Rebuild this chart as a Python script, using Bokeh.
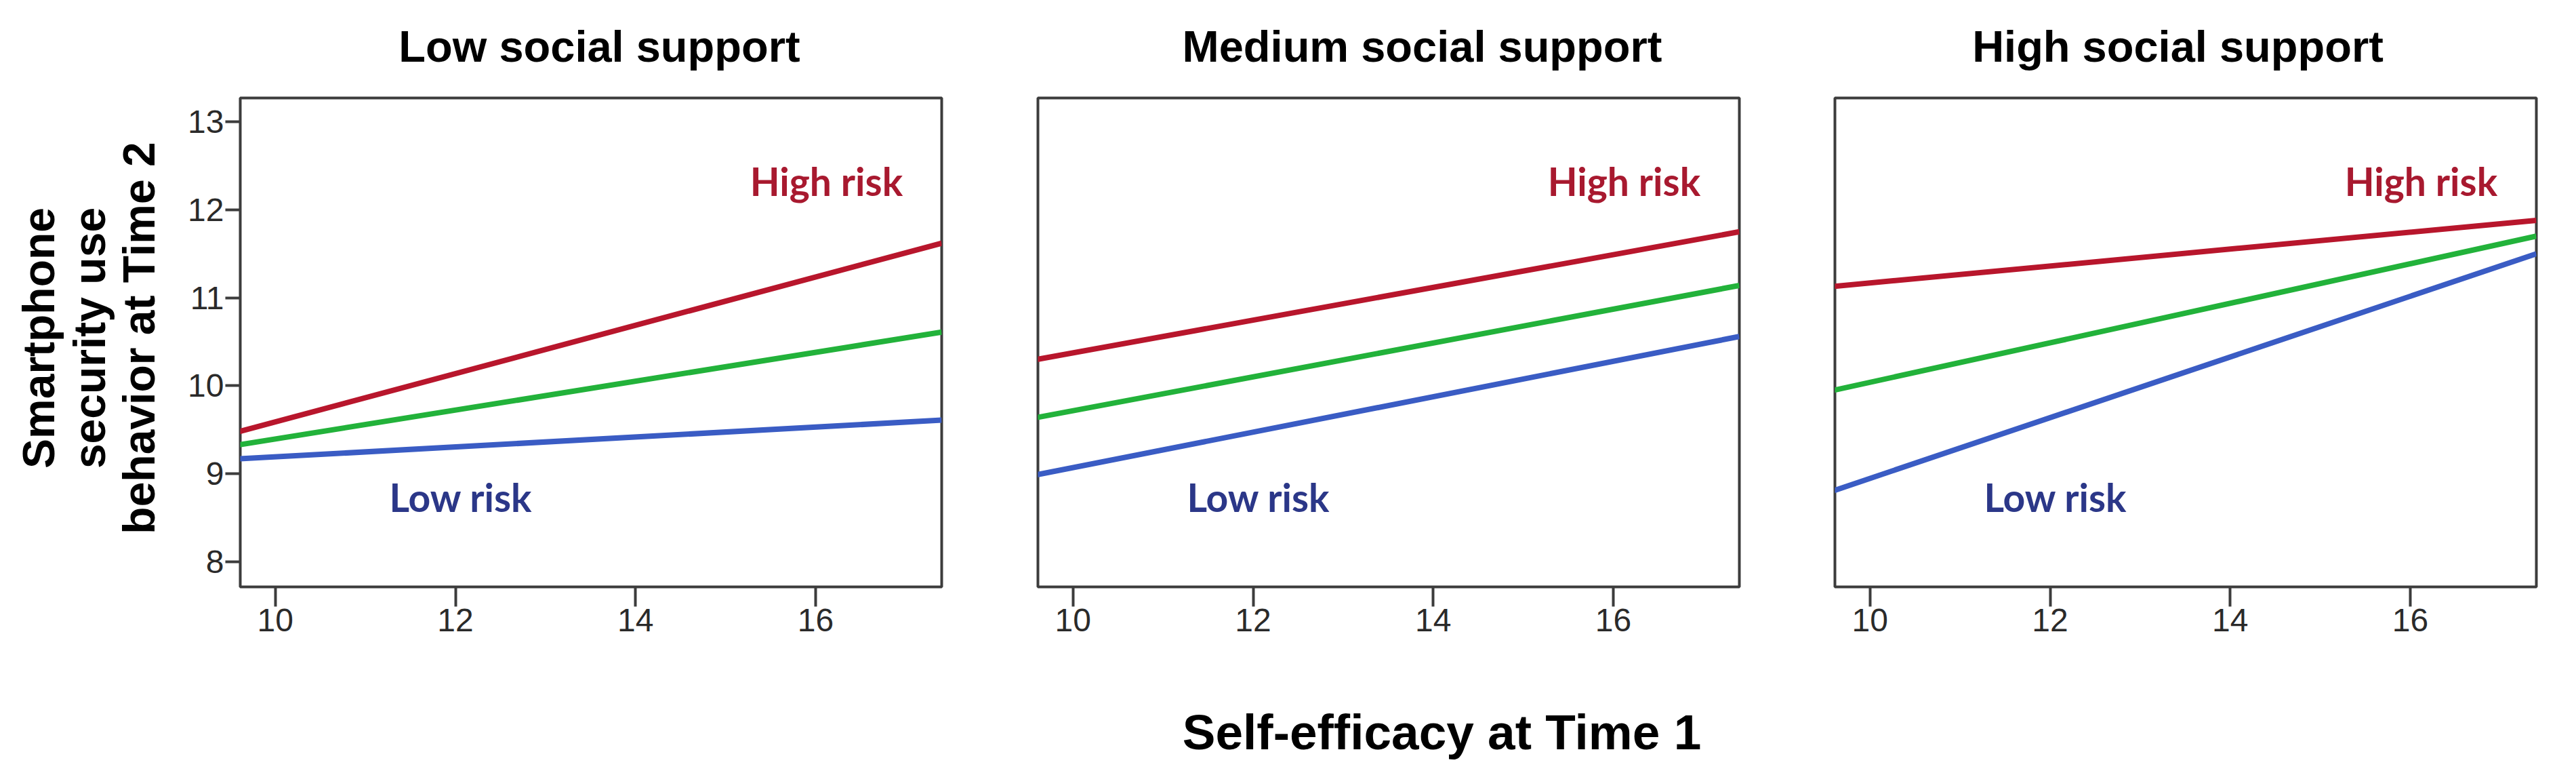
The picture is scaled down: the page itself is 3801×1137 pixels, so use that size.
import math
from bokeh.plotting import figure
from bokeh.layouts import row, column
from bokeh.models import Range1d, FixedTicker
from bokeh.core.properties import value
from bokeh.embed import file_html
from bokeh.resources import INLINE

# ---------------- data ----------------
panel_titles = ["Low social support", "Medium social support", "High social support"]
x_ends = [9.6, 17.4]
high_risk = [[9.48, 11.62], [10.30, 11.75], [11.13, 11.88]]
mean_risk = [[9.33, 10.61], [9.64, 11.14], [9.95, 11.70]]
low_risk = [[9.17, 9.61], [8.99, 10.56], [8.81, 11.50]]
x_ticks = [10, 12, 14, 16]
y_ticks = [8, 9, 10, 11, 12, 13]
high_label = "High risk"
low_label = "Low risk"
high_label_xy = [16.12, 12.23]
low_label_xy = [12.06, 8.64]
y_title_lines = ["Smartphone", "security use", "behavior at Time 2"]
x_title = "Self-efficacy at Time 1"

# ---------------- style ----------------
RED, GREEN, BLUE = "#b8162c", "#22b23a", "#3a5cc4"
RED_TXT, BLUE_TXT = "#a8192f", "#2b3788"
FRAME_COL = "#3c3c3c"
X_RANGE = (9.61, 17.40)
Y_RANGE = (7.715, 13.27)
FRAME_W, FRAME_H = 1035, 721
TOP_H, BOT_H = 134, 135
ROW_TOP, ROW_BOT = 10, 121
ROW_H = ROW_TOP + FRAME_H + ROW_BOT
TOTAL_W = 3772
TICK_FONT = "Liberation Sans Narrow, Liberation Sans"


def blank(w, h):
    p = figure(title=None, frame_width=w, frame_height=h,
               x_range=Range1d(0, w), y_range=Range1d(0, h),
               x_axis_location=None, y_axis_location=None, toolbar_location=None,
               output_backend="svg", min_border=0, outline_line_color=None)
    p.grid.visible = False
    return p


def panel(i, left, right, show_y):
    p = figure(title=None, frame_width=FRAME_W, frame_height=FRAME_H,
               x_range=Range1d(*X_RANGE), y_range=Range1d(*Y_RANGE),
               y_axis_location="left" if show_y else None,
               toolbar_location=None, output_backend="svg",
               min_border_left=left, min_border_right=right,
               min_border_top=ROW_TOP, min_border_bottom=ROW_BOT)
    p.grid.visible = False
    p.outline_line_color = FRAME_COL
    p.outline_line_width = 4
    p.outline_line_alpha = 1
    axes = [p.xaxis[0]] + ([p.yaxis[0]] if show_y else [])
    for ax in axes:
        ax.axis_line_color = None
        ax.major_tick_line_color = FRAME_COL
        ax.major_tick_line_width = 4
        ax.major_tick_in = 0
        ax.minor_tick_line_color = None
        ax.major_label_text_font = TICK_FONT
        ax.major_label_text_font_size = "48px"
        ax.major_label_text_color = "#2a2a2a"
    p.xaxis[0].ticker = FixedTicker(ticks=x_ticks)
    p.xaxis[0].major_tick_out = 29
    p.xaxis[0].major_label_standoff = 3
    if show_y:
        p.yaxis[0].ticker = FixedTicker(ticks=y_ticks)
        p.yaxis[0].major_tick_out = 22
        p.yaxis[0].major_label_standoff = 2
    p.line(x_ends, high_risk[i], line_color=RED, line_width=8)
    p.line(x_ends, mean_risk[i], line_color=GREEN, line_width=8)
    p.line(x_ends, low_risk[i], line_color=BLUE, line_width=8)
    p.text(x=[high_label_xy[0]], y=[high_label_xy[1]], text=[high_label], y_offset=-12,
           text_font=value("Lato"), text_font_style="bold", text_font_size="57px",
           text_color=RED_TXT, text_align="center", text_baseline="alphabetic")
    p.text(x=[low_label_xy[0]], y=[low_label_xy[1]], text=[low_label], y_offset=-12,
           text_font=value("Lato"), text_font_style="bold", text_font_size="57px",
           text_color=BLUE_TXT, text_align="center", text_baseline="alphabetic")
    return p


# top strip with panel titles
top = blank(TOTAL_W, TOP_H)
top.text(x=[884, 2098, 3213], y=[TOP_H - 87] * 3, text=panel_titles, y_offset=-19,
         text_font=value("Liberation Sans"), text_font_style="bold", text_font_size="65px",
         text_color="#000000", text_align="center", text_baseline="alphabetic")

# left strip with y-axis title
LEFT_W = 250
left = blank(LEFT_W, ROW_H)
left.text(x=[64, 139, 212], y=[ROW_H - (488 - TOP_H)] * 3, text=y_title_lines,
          angle=math.pi / 2, x_offset=-8,
          text_font=value("Liberation Sans"), text_font_style="bold", text_font_size="66px",
          text_color="#000000", text_align="center", text_baseline="alphabetic")

p1 = panel(0, 104, 71, True)
p2 = panel(1, 71, 70, False)
p3 = panel(2, 71, 30, False)

# bottom strip with x-axis title
bottom = blank(TOTAL_W, BOT_H)
bottom.text(x=[2127], y=[BOT_H - 108], text=[x_title], y_offset=-15,
            text_font=value("Liberation Sans"), text_font_style="bold", text_font_size="73px",
            text_color="#000000", text_align="center", text_baseline="alphabetic")

layout = column(top, row(left, p1, p2, p3, spacing=0), bottom, spacing=0)

open("out.html", "w").write(file_html(layout, INLINE))
